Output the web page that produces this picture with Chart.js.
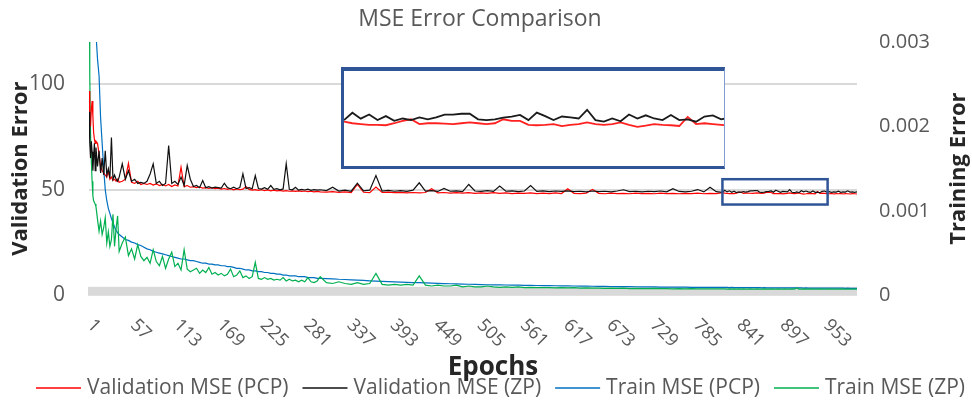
<!DOCTYPE html>
<html>
<head>
<meta charset="utf-8">
<script src="https://cdn.jsdelivr.net/npm/chart.js@4.4.1/dist/chart.umd.min.js"></script>
<style>
  html, body { margin: 0; padding: 0; background: #ffffff; }
  #wrap { position: relative; width: 972px; height: 402px; }
  #main { position: absolute; left: 0; top: 0; }
  #inset {
    position: absolute; left: 341px; top: 67px; width: 380px; height: 95px;
    background: #ffffff;
    border-top: 4px solid #2f5597; border-left: 3px solid #2f5597;
    border-bottom: 3px solid #2f5597; border-right: 1px solid #7f9bd0;
  }
  #insetCanvas { display: block; }
</style>
</head>
<body>
<div id="wrap">
  <canvas id="main" width="972" height="402"></canvas>
  <div id="inset"><canvas id="insetCanvas" width="380" height="95"></canvas></div>
</div>
<script>
// ---------------- DATA ----------------
const epochs = [
  1,2,3,4,5,6,7,8,9,10,12,14,16,18,20,22,24,26,28,30,32,34,36,38,40,
  44,48,52,56,60,64,68,72,76,80,84,88,92,96,100,104,108,112,116,120,124,128,132,136,140,
  144,148,152,156,160,164,168,172,176,180,184,188,192,196,200,204,208,212,216,220,224,228,232,236,240,
  244,248,252,256,260,264,268,272,276,280,284,288,292,296,300,
  308,316,324,332,340,348,356,364,372,380,388,396,404,412,420,428,436,444,452,460,468,476,484,492,500,
  508,516,524,532,540,548,556,564,572,580,588,596,604,612,620,628,636,644,652,660,668,676,684,692,700,
  708,716,724,732,740,748,756,764,772,780,788,796,804,812,820,
  823,826,829,832,835,838,841,844,847,850,853,856,859,862,865,868,871,874,877,880,
  883,886,889,892,895,898,901,904,907,910,913,916,919,922,925,928,931,934,937,940,
  943,946,949,952,955,958,961,964,967,970,973,976,979,982,985,988,991,994
];

const validationPCP = [
  96.8,84,80,88,92,85,77,74,72,73,72,67,61,59,58,57,56,59,55,56,54.5,55,54,55,53.5,
  54,55,62.5,53.5,53,54,52.5,53,52.5,53,52.2,52.8,52,52.5,51.8,52.5,51.5,52.3,51.8,60.7,51.5,52,51.2,51.5,51,
  51.3,50.8,51,50.6,51,50.5,50.8,50.3,50.6,50.2,50.5,50,50.4,50,50.3,51.5,50.2,49.8,50.1,49.7,50,49.6,49.9,49.5,49.8,
  49.5,49.7,49.4,49.6,49.3,49.5,49.2,49.5,49.2,49.4,49.1,49.3,49.0,49.2,49.0,
  48.9,49.1,48.8,49.0,48.7,52.5,48.8,48.6,51.3,48.7,48.9,48.6,48.8,48.5,48.7,48.5,48.7,50.5,48.5,48.7,48.4,48.6,48.4,48.6,48.3,
  48.5,48.3,48.6,48.3,48.5,48.2,48.4,48.3,48.5,48.2,48.4,48.2,48.5,48.2,50.5,48.3,48.2,48.4,50.2,48.3,48.1,48.4,48.2,48.3,48.1,
  48.4,48.2,48.3,48.1,48.4,48.2,48.3,48.1,48.3,48.2,48.4,48.1,48.3,48.2,48.6,
  48.4,48.3,48.2,48.2,48.15,48.4,48.7,48.9,48.3,48.4,48.4,48.35,48.3,48.4,48.5,48.4,48.3,48.4,48.9,48.7,
  48.7,48.2,48.15,48.2,48.3,48.05,48.2,48.3,48.5,48.3,48.2,48.3,48.5,48.2,47.95,48.1,48.3,48.2,48.15,48.05,
  49.2,48.3,48.4,48.3,48.2,48.1,48.3,48.0,48.2,48.1,48.3,48.0,48.2,48.1,48.0,48.2,48.1,48.0
];

const validationZP = [
  87,72,65,73,68,59,66,72,59,70,61,68.5,58,65,57,68.5,57,60,55.5,74.8,55,57,55,54,56,
  62.3,55,59,54,55,53,53.5,53,54,57.5,62.3,53,54,52,53,70.9,53,54,52.5,56,52,61.5,55,51.5,52,
  51,54.4,51,51.5,50.8,51.2,51,50.8,53.1,51,50.5,51.2,50.5,51,57.5,50.6,51,50.5,56.7,50.6,50.3,51,50.2,52,50.2,
  50.5,50,50.4,62.3,50.2,50,51.2,49.8,50.2,49.9,50.3,49.7,50.1,49.8,50,
  49.6,51.2,49.4,49.8,49.3,53.1,49.5,49.8,56.7,49.4,49.7,49.3,49.6,49.2,49.8,53.3,49.4,49.6,49.2,50.6,49.3,49.5,49.1,52.5,49.4,
  49.2,49.6,49.2,51.8,49.3,49.5,49.1,49.4,52.0,49.2,49.5,49.1,49.4,49.2,49.5,49.1,49.3,49.0,49.4,49.1,49.3,49.0,49.4,50.0,49.1,
  49.3,49.0,49.3,49.1,49.4,49.0,50.5,49.2,49.0,49.3,50.1,49.0,51.2,49.1,48.8,
  49.73,48.98,49.5,48.8,49.3,48.7,49.0,48.8,49.15,48.9,49.15,49.5,49.5,49.6,49.6,48.9,48.8,48.9,49.1,49.25,
  49.45,48.8,49.75,49.3,48.8,49.25,49.15,49.0,50.1,48.8,48.6,49.0,48.65,49.5,49.0,49.4,49.0,48.8,49.45,48.8,
  48.9,48.6,49.25,49.4,48.9,49.1,48.8,49.0,48.9,49.3,48.8,49.0,48.9,49.5,48.9,49.0,48.8,49.0
];

const trainPCP = [
  0.0080,0.0068,0.0059,0.0052,0.0046,0.0041,0.0037,0.0034,0.0032,0.0031,0.0028,0.0026,0.0021,0.0018,0.0015,0.00125,0.00112,0.00103,0.00097,0.00091,0.00086,0.00081,0.00077,0.00074,0.00072,
  0.00069,0.00066,0.00065,0.00063,0.00062,0.00060,0.00059,0.00057,0.00055,0.00054,
  0.00052,0.00051,0.00050,0.00049,0.00048,0.00047,0.00046,0.00045,0.00044,0.00043,
  0.00043,0.00042,0.00041,0.00041,0.00040,0.00039,0.00038,0.00038,0.00037,0.00037,
  0.00036,0.00036,0.00035,0.00035,0.00034,0.00034,0.00033,0.00032,0.00032,0.00031,
  0.00030,0.00030,0.00029,0.00029,0.00028,0.00028,0.00027,0.00027,0.00026,0.00026,
  0.00025,0.00025,0.00024,0.00024,0.00023,0.00023,0.00023,0.00022,0.00022,0.00022,
  0.00021,0.00021,0.00021,0.00020,0.00020,
  0.000198,0.000195,0.000190,0.000187,0.000183,0.000180,0.000177,0.000172,0.000168,0.000165,
  0.000162,0.000160,0.000157,0.000154,0.000151,0.000149,0.000146,0.000144,0.000141,0.000139,
  0.000137,0.000135,0.000133,0.000131,0.000129,0.000127,0.000125,0.000124,0.000123,0.000122,
  0.000121,0.000120,0.000118,0.000117,0.000116,0.000115,0.000114,0.000113,0.000112,0.000111,
  0.000110,0.000109,0.000108,0.000107,0.000106,0.000105,0.000104,0.000103,0.000102,0.000102,
  0.000101,0.000100,0.000100,0.000099,0.000098,0.000098,0.000097,0.000096,0.000096,0.000095,
  0.000095,0.000094,0.000094,0.000093,0.000093,
  0.000093,0.000093,0.000092,0.000093,0.000092,0.000092,0.000091,0.000092,0.000091,0.000091,
  0.000091,0.000090,0.000091,0.000090,0.000090,0.000090,0.000089,0.000090,0.000089,0.000089,
  0.000089,0.000089,0.000088,0.000089,0.000088,0.000088,0.000088,0.000088,0.000087,0.000088,
  0.000087,0.000087,0.000087,0.000087,0.000086,0.000087,0.000086,0.000086,0.000086,0.000086,
  0.000085,0.000086,0.000085,0.000085,0.000085,0.000085,0.000084,0.000085,0.000084,0.000084,
  0.000084,0.000084,0.000083,0.000084,0.000083,0.000083,0.000083,0.000083
];

const trainZP = [
  0.0045,0.0026,0.0019,0.0016,0.00135,0.00118,0.00112,0.00110,0.00108,0.00105,0.00090,0.00076,0.00088,0.00072,0.00080,0.00092,0.00062,0.00075,0.00058,0.00066,0.00096,0.00058,0.00079,0.00094,0.00052,
  0.00062,0.00069,0.00047,0.00055,0.00043,0.00060,0.00046,0.00041,0.00045,0.00038,
  0.00054,0.00040,0.00035,0.00046,0.00032,0.00043,0.00051,0.00034,0.00038,0.00030,
  0.00054,0.00031,0.00028,0.00030,0.00032,0.00026,0.00030,0.00027,0.00033,0.00025,
  0.00027,0.00024,0.00026,0.00023,0.00025,0.00031,0.00022,0.00024,0.00029,0.00021,
  0.00023,0.00020,0.00022,0.00039,0.00020,0.00019,0.00021,0.00019,0.00020,0.00018,
  0.00019,0.00018,0.00021,0.00017,0.00019,0.00017,0.00018,0.00016,0.00018,0.00016,
  0.00021,0.00016,0.00015,0.00017,0.00022,
  0.00015,0.00014,0.00016,0.00014,0.00013,0.00015,0.00013,0.00014,0.00026,0.00013,
  0.00012,0.00013,0.00012,0.00013,0.00012,0.00023,0.00012,0.00011,0.00012,0.00011,
  0.00011,0.00012,0.00010,0.00011,0.00010,0.00010,0.00011,0.00010,0.000095,0.00010,
  0.000095,0.00010,0.000092,0.000095,0.00009,0.000092,0.00009,0.000088,0.00009,0.000087,
  0.00009,0.000085,0.000087,0.000084,0.000086,0.000083,0.000085,0.000082,0.000084,0.00008,
  0.000082,0.00008,0.000079,0.000081,0.000078,0.00008,0.000077,0.000079,0.000076,0.000078,
  0.000076,0.000077,0.000075,0.000077,0.000075,
  0.000075,0.000074,0.000076,0.000074,0.000075,0.000073,0.000075,0.000074,0.000076,0.000073,
  0.000074,0.000075,0.000073,0.000074,0.000076,0.000073,0.000074,0.000075,0.000073,0.000074,
  0.000075,0.000073,0.000074,0.000076,0.000073,0.000074,0.000075,0.000073,0.000074,0.000075,
  0.000073,0.000088,0.000074,0.000073,0.000075,0.000074,0.000073,0.000075,0.000074,0.000073,
  0.000074,0.000075,0.000073,0.000074,0.000073,0.000075,0.000074,0.000073,0.000074,0.000073,
  0.000075,0.000074,0.000073,0.000074,0.000073,0.000074,0.000073,0.000074
];

const xTickLabels = [1,57,113,169,225,281,337,393,449,505,561,617,673,729,785,841,897,953];
const leftTicks = [0, 50, 100];
const rightTicks = [0, 0.001, 0.002, 0.003];
const zoomEpochs = [820, 956];   // region magnified in the inset
const zoomValues = [43, 55];

// ---------------- CHART ----------------
const FONT = "'Open Sans', 'Noto Sans', sans-serif";
Chart.defaults.font.family = FONT;
const toPts = (ys) => epochs.map((e, i) => ({ x: e, y: ys[i] }));
const PLOT_TOP = 42;
const PLOT_BOTTOM = 295.3;

const decor = {
  id: 'decor',
  beforeDatasetsDraw(chart) {
    const { ctx, chartArea } = chart;
    const y0 = chart.scales.y.getPixelForValue(0);
    ctx.save();
    ctx.fillStyle = '#d9d9d9';
    ctx.fillRect(chartArea.left - 1, y0 - 8.5, chartArea.right - chartArea.left + 1, 9);
    ctx.restore();
  },
  afterDatasetsDraw(chart) {
    const { ctx } = chart;
    const xs = chart.scales.x, ys = chart.scales.y;
    const x1 = xs.getPixelForValue(zoomEpochs[0]), x2 = xs.getPixelForValue(zoomEpochs[1]);
    const y1 = ys.getPixelForValue(zoomValues[1]), y2 = ys.getPixelForValue(zoomValues[0]);
    ctx.save();
    ctx.strokeStyle = '#2f5597';
    ctx.lineWidth = 2.5;
    ctx.strokeRect(x1, y1, x2 - x1, y2 - y1);
    ctx.restore();
  },
  afterDraw(chart) {
    const { ctx, chartArea } = chart;
    const xs = chart.scales.x;
    ctx.save();
    // title
    ctx.fillStyle = '#595959';
    ctx.font = '23px ' + FONT;
    ctx.textAlign = 'center';
    ctx.textBaseline = 'middle';
    ctx.fillText('MSE Error Comparison', 480, 19);
    // x tick labels (rotated, reading downwards to the right)
    ctx.font = '18px ' + FONT;
    ctx.textAlign = 'left';
    xTickLabels.forEach(v => {
      const px = xs.getPixelForValue(v);
      ctx.save();
      ctx.translate(px + 1, chartArea.bottom + 27);
      ctx.rotate(Math.PI / 4);
      ctx.fillText(String(v), 0, 0);
      ctx.restore();
    });
    // x axis title
    ctx.fillStyle = '#262626';
    ctx.font = 'bold 26px ' + FONT;
    ctx.textAlign = 'center';
    ctx.fillText('Epochs', 493, 368);
    // right axis title, reading bottom-to-top
    ctx.save();
    ctx.translate(959, (chartArea.top + chartArea.bottom) / 2);
    ctx.rotate(-Math.PI / 2);
    ctx.font = 'bold 22px ' + FONT;
    ctx.fillText('Training Error', 0, 0);
    ctx.restore();
    // legend
    ctx.font = '21px ' + FONT;
    ctx.textAlign = 'left';
    const items = chart.data.datasets.map(d => ({ text: d.label, color: d.borderColor }));
    const lineLen = 45, gapText = 6, gapItem = 14;
    let total = 0;
    items.forEach((it, i) => { it.w = ctx.measureText(it.text).width; total += lineLen + gapText + it.w + (i ? gapItem : 0); });
    let x = 500.5 - total / 2;
    const ly = 388;
    items.forEach(it => {
      ctx.strokeStyle = it.color;
      ctx.lineWidth = 1.5;
      ctx.beginPath();
      ctx.moveTo(x, ly);
      ctx.lineTo(x + lineLen, ly);
      ctx.stroke();
      ctx.fillStyle = '#595959';
      ctx.fillText(it.text, x + lineLen + gapText, ly);
      x += lineLen + gapText + it.w + gapItem;
    });
    ctx.restore();
  }
};

new Chart(document.getElementById('main'), {
  type: 'line',
  data: {
    datasets: [
      { label: 'Validation MSE (PCP)', data: toPts(validationPCP), yAxisID: 'y', borderColor: '#ff0000', backgroundColor: '#ff0000', borderWidth: 1.2, order: 1 },
      { label: 'Validation MSE (ZP)', data: toPts(validationZP), yAxisID: 'y', borderColor: '#111111', backgroundColor: '#111111', borderWidth: 1.2, order: 0 },
      { label: 'Train MSE (PCP)', data: toPts(trainPCP), yAxisID: 'y1', borderColor: '#0070c0', backgroundColor: '#0070c0', borderWidth: 1.2, order: 3 },
      { label: 'Train MSE (ZP)', data: toPts(trainZP), yAxisID: 'y1', borderColor: '#00b050', backgroundColor: '#00b050', borderWidth: 1.2, order: 2 }
    ]
  },
  options: {
    responsive: false,
    animation: false,
    events: [],
    elements: { point: { radius: 0 }, line: { tension: 0 } },
    layout: { padding: { top: PLOT_TOP, bottom: 0, left: 0, right: 0 } },
    plugins: {
      title: { display: false },
      legend: { display: false },
      tooltip: { enabled: false }
    },
    scales: {
      x: {
        type: 'linear', min: 1, max: 994,
        ticks: { display: false },
        grid: { display: false, drawTicks: false },
        border: { display: false },
        afterFit(s) { s.height = 402 - PLOT_BOTTOM; }
      },
      y: {
        position: 'left', min: 0, max: 120,
        afterBuildTicks(s) { s.ticks = leftTicks.map(v => ({ value: v })); },
        ticks: { padding: 24, color: '#595959', font: { size: 21 } },
        grid: { color: (c) => (c.tick && c.tick.value === 0 ? 'rgba(0,0,0,0)' : '#d9d9d9'), lineWidth: 2, drawTicks: false },
        border: { display: false },
        title: { display: true, text: 'Validation Error', color: '#262626', font: { size: 22, weight: 'bold' }, padding: { top: 8, bottom: 0 } },
        afterFit(s) { s.width = 89; }
      },
      y1: {
        position: 'right', min: 0, max: 0.003,
        afterBuildTicks(s) { s.ticks = rightTicks.map(v => ({ value: v })); },
        ticks: { padding: 22, color: '#595959', font: { size: 20 }, callback: (v) => (v === 0 ? '0' : v.toFixed(3)) },
        grid: { display: false, drawTicks: false },
        border: { display: false },
        title: { display: false },
        afterFit(s) { s.width = 115; }
      }
    }
  },
  plugins: [decor]
});

// ---------------- INSET (magnified view of the boxed region) ----------------
const inRange = (ys) => epochs.map((e, i) => ({ x: e, y: ys[i] })).filter(p => p.x >= zoomEpochs[0] - 3 && p.x <= zoomEpochs[1] + 3);
new Chart(document.getElementById('insetCanvas'), {
  type: 'line',
  data: {
    datasets: [
      { label: 'Validation MSE (ZP)', data: inRange(validationZP), borderColor: '#1a1a1a', borderWidth: 1.8 },
      { label: 'Validation MSE (PCP)', data: inRange(validationPCP), borderColor: '#ff2020', borderWidth: 1.8 }
    ]
  },
  options: {
    responsive: false, animation: false, events: [],
    elements: { point: { radius: 0 }, line: { tension: 0 } },
    layout: { padding: 0 },
    plugins: { legend: { display: false }, title: { display: false }, tooltip: { enabled: false } },
    scales: {
      x: { type: 'linear', min: zoomEpochs[0], max: zoomEpochs[1], display: false },
      y: { min: zoomValues[0], max: zoomValues[1], display: false }
    }
  }
});
</script>
</body>
</html>
